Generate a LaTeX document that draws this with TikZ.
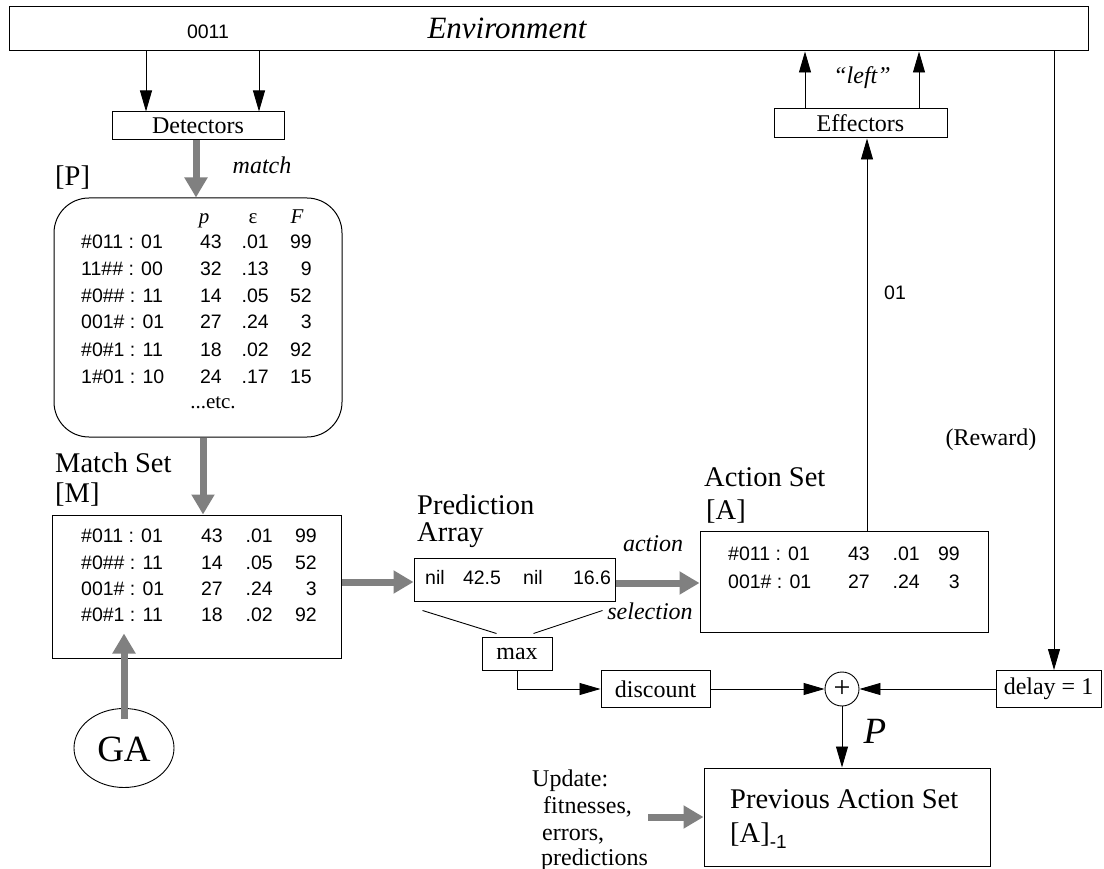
\documentclass[tikz,border=0pt]{standalone}
\usepackage{fontspec}
\setmainfont{Liberation Serif}
\setsansfont{Liberation Sans}
\usetikzlibrary{arrows.meta,calc,shapes.geometric}
\definecolor{garrow}{RGB}{128,128,128}
\tikzset{
  box/.style={draw, line width=1pt, inner sep=0pt},
  arr/.style={line width=0.9pt, -{Triangle[length=21pt,width=12pt]}},
  thin line/.style={line width=0.9pt},
  garr/.style={draw=garrow, line width=7pt, -{Triangle[length=20pt,width=22pt]}},
  tab/.style={font=\sffamily\fontsize{19.5}{20}\selectfont, inner sep=0pt},
  hdr/.style={font=\fontsize{21}{22}\selectfont, inner sep=0pt},
  lab/.style={font=\fontsize{28.5}{30}\selectfont, inner sep=0pt},
  sm/.style={font=\fontsize{24}{26}\selectfont, inner sep=0pt},
  big/.style={font=\fontsize{37}{40}\selectfont, inner sep=0pt},
}
\begin{document}
\begin{tikzpicture}[x=1pt,y=-1pt]
\useasboundingbox (0,0) rectangle (1104,869);
% boxes
\node[box, minimum width=1079pt, minimum height=44pt] (env) at (548.5,29) {};
\node[tab, anchor=base] (s0011) at (208,39) {0011};
\node[anchor=base, inner sep=0pt, font=\fontsize{31}{32}\selectfont] (envt) at (507,39) {\itshape Environment};
\node[box, sm, minimum width=172pt, minimum height=28pt] (det) at (198,126) {Detectors};
\node[box, sm, minimum width=173pt, minimum height=29pt] (eff) at (860.5,123.5) {Effectors};
\node[box, rounded corners=35pt, minimum width=288pt, minimum height=239pt] (pop) at (198,317.5) {};
\node[box, minimum width=289pt, minimum height=143pt] (ms) at (196.5,586.5) {};
\node[box, minimum width=201pt, minimum height=43pt] (pa) at (514.5,579.5) {};
\node[box, minimum width=288pt, minimum height=101pt] (as) at (844,581.5) {};
\node[box, sm, minimum width=70pt, minimum height=33pt] (max) at (517,653.5) {max};
\node[box, sm, minimum width=109pt, minimum height=37pt] (disc) at (655.5,689) {discount};
\node[box, sm, minimum width=105pt, minimum height=37pt] (delay) at (1048.5,689) {delay = 1};
\node[draw, line width=0.9pt, circle, minimum size=34pt, inner sep=0pt, font=\fontsize{30}{30}\selectfont] (plus) at (842,689) {+};
\node[box, minimum width=286pt, minimum height=98pt] (prev) at (847,817) {};
\node[draw, line width=0.9pt, ellipse, minimum width=100pt, minimum height=79pt, inner sep=0pt] (ga) at (124,748) {};
\node[big, anchor=base] (gat) at (124,761) {GA};
% labels
\node[sm, anchor=base] (leftt) at (862,84) {\itshape “left”};
\node[sm, anchor=base] (matcht) at (262,174) {\itshape match};
\node[lab, anchor=base west] (plab) at (55,186) {[P]};
\node[lab, anchor=base west] (mlab1) at (55,472) {Match Set};
\node[lab, anchor=base west] (mlab2) at (55,502) {[M]};
\node[lab, anchor=base west] (palab1) at (417,514) {Prediction};
\node[lab, anchor=base west] (palab2) at (417,541) {Array};
\node[sm, anchor=base] (actt) at (653,551) {\itshape action};
\node[sm, anchor=base] (selt) at (650,619) {\itshape selection};
\node[lab, anchor=base west] (alab1) at (704,486) {Action Set};
\node[lab, anchor=base west] (alab2) at (706,519) {[A]};
\node[sm, anchor=base] (rew) at (991,445) {(Reward)};
\node[tab, anchor=base] (o1) at (895,300) {01};
\node[big, anchor=base] (pt) at (875,743) {\itshape P};
\node[sm, anchor=base west] (u1) at (532,786) {Update:};
\node[sm, anchor=base west] (u2) at (543,813) {fitnesses,};
\node[sm, anchor=base west] (u3) at (542,840) {errors,};
\node[sm, anchor=base west] (u4) at (541,865) {predictions};
\node[lab, anchor=base west] (pv1) at (730,808) {Previous Action Set};
\node[lab, anchor=base west] (pv2) at (730,842) {[A]\raisebox{-6pt}{\sffamily\fontsize{19}{19}\selectfont -1}};
% population table
\node[hdr, anchor=base] (ph1) at (204,224) {\itshape p};
\node[hdr, anchor=base] (ph2) at (253,224) {ε};
\node[hdr, anchor=base] (ph3) at (297,224) {\itshape F};
\foreach \y/\c/\p/\e/\f [count=\i] in {
 249/{\#011 : 01}/43/.01/99,
 276/{11\#\# : 00}/32/.13/9,
 303/{\#0\#\# : 11}/14/.05/52,
 329/{001\# : 01}/27/.24/3,
 356/{\#0\#1 : 11}/18/.02/92,
 383/{1\#01 : 10}/24/.17/15}
{
 \node[tab, anchor=base west] (pc\i) at (81,\y) {\c};
 \node[tab, anchor=base east] (pp\i) at (222,\y) {\p};
 \node[tab, anchor=base east] (pe\i) at (269,\y) {\e};
 \node[tab, anchor=base east] (pf\i) at (312,\y) {\f};
}
\node[hdr, anchor=base] (etc) at (213,408) {...etc.};
% match set table
\foreach \y/\c/\p/\e/\f [count=\i] in {
 542/{\#011 : 01}/43/.01/99,
 569/{\#0\#\# : 11}/14/.05/52,
 595/{001\# : 01}/27/.24/3,
 621/{\#0\#1 : 11}/18/.02/92}
{
 \node[tab, anchor=base west] (mc\i) at (81,\y) {\c};
 \node[tab, anchor=base east] (mp\i) at (223,\y) {\p};
 \node[tab, anchor=base east] (me\i) at (273,\y) {\e};
 \node[tab, anchor=base east] (mf\i) at (317,\y) {\f};
}
% action set table
\foreach \y/\c/\p/\e/\f [count=\i] in {
 560/{\#011 : 01}/43/.01/99,
 588/{001\# : 01}/27/.24/3}
{
 \node[tab, anchor=base west] (ac\i) at (728,\y) {\c};
 \node[tab, anchor=base east] (ap\i) at (870,\y) {\p};
 \node[tab, anchor=base east] (ae\i) at (920,\y) {\e};
 \node[tab, anchor=base east] (af\i) at (960,\y) {\f};
}
% prediction array
\node[tab, anchor=base] (pa1) at (435,584) {nil};
\node[tab, anchor=base] (pa2) at (482,584) {42.5};
\node[tab, anchor=base] (pa3) at (533,584) {nil};
\node[tab, anchor=base] (pa4) at (592,584) {16.6};
% black connectors
\draw[arr] (146,0 |- env.south) -- (146,0 |- det.north);
\draw[arr] (259,0 |- env.south) -- (259,0 |- det.north);
\draw[arr] (805,0 |- eff.north) -- (805,0 |- env.south);
\draw[arr] (919,0 |- eff.north) -- (919,0 |- env.south);
\draw[arr] (867,0 |- as.north) -- (867,0 |- eff.south);
\draw[arr] (1054,0 |- env.south) -- (1054,0 |- delay.north);
\draw[arr] (delay.west) -- (plus.east);
\draw[arr] (disc.east) -- (plus.west);
\draw[arr] (max.south) |- (disc.west);
\draw[arr] (plus.south) -- (plus.south |- prev.north);
\draw[thin line] ($(pa.south west)+(9,9)$) -- ($(max.north west)+(15,-3)$);
\draw[thin line] ($(pa.south east)+(-13,9)$) -- ($(max.north east)+(-19,-3)$);
% gray arrows
\draw[garr] (196,0 |- det.south) -- (196,0 |- pop.north);
\draw[garr] (203,0 |- pop.south) -- (203,0 |- ms.north);
\draw[garr] ($(ga.north)+(0,11)$) -- ($(ga.north |- ms.south)+(0,-25)$);
\draw[garr] (ms.east |- 0,582) -- (pa.west |- 0,582);
\draw[garr] (pa.east |- 0,583) -- (as.west |- 0,583);
\coordinate (upd) at (648,817);
\draw[garr] (upd) -- (prev.west |- upd);
\end{tikzpicture}
\end{document}
